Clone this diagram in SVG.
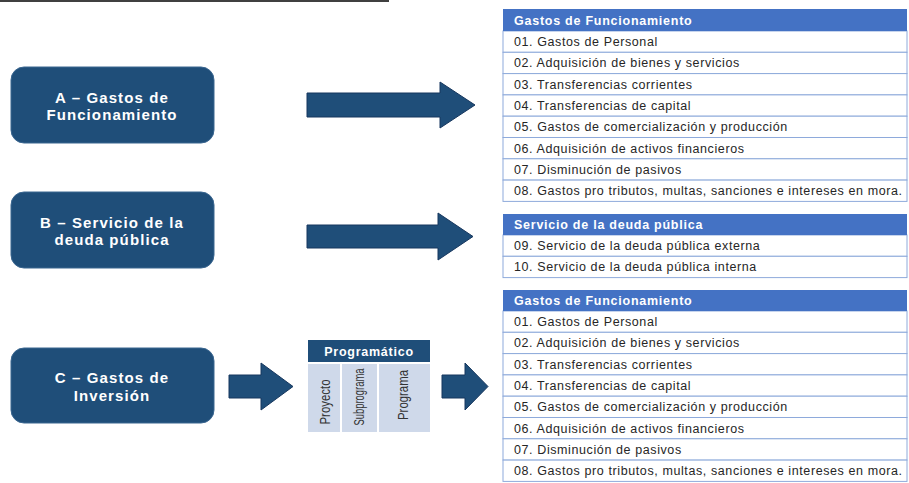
<svg xmlns="http://www.w3.org/2000/svg" width="909" height="483" viewBox="0 0 909 483">
<style>
.box{fill:#1f4e79;stroke:#3a6690;stroke-width:1}
.bt{font-family:"Liberation Sans",Arial,sans-serif;font-size:15px;font-weight:bold;fill:#fff;text-anchor:middle;letter-spacing:1.1px}
.arrow{fill:#1f4e79;stroke:#17375e;stroke-width:1}
.th{fill:#4472c4}
.tht{font-family:"Liberation Sans",Arial,sans-serif;font-size:12.5px;font-weight:bold;fill:#fff;letter-spacing:0.75px}
.row{fill:#fff;stroke:#8eaadb;stroke-width:1}
.rt{font-family:"Liberation Sans",Arial,sans-serif;font-size:12.5px;fill:#262626;letter-spacing:0.6px}
.pcol{fill:#cfd9ea}
.pt{font-family:"Liberation Sans",Arial,sans-serif;font-size:14px;fill:#333;text-anchor:middle}
</style>
<line x1="0" y1="1" x2="389" y2="1" stroke="#000" stroke-width="1.5"/>

<g id="nodeA">
<rect class="box" x="11" y="67" width="203" height="76" rx="13"/>
<text class="bt" x="112" y="103">A – Gastos de</text>
<text class="bt" x="112" y="120">Funcionamiento</text>
</g>
<g id="nodeB">
<rect class="box" x="11" y="192" width="203" height="76" rx="13"/>
<text class="bt" x="112" y="228">B – Servicio de la</text>
<text class="bt" x="112" y="245">deuda pública</text>
</g>
<g id="nodeC">
<rect class="box" x="11" y="348" width="203" height="75" rx="13"/>
<text class="bt" x="112" y="383">C – Gastos de</text>
<text class="bt" x="112" y="401">Inversión</text>
</g>

<g id="programatico">
<rect x="308" y="340" width="122" height="22" fill="#1f4e79"/>
<text class="tht" x="369" y="355.5" text-anchor="middle" font-size="13" letter-spacing="1">Programático</text>
<rect class="pcol" x="308" y="364" width="32" height="68"/>
<rect class="pcol" x="342" y="364" width="35" height="68"/>
<rect class="pcol" x="379" y="364" width="51" height="68"/>
<text class="pt" transform="translate(330,402) rotate(-90)" textLength="45" lengthAdjust="spacingAndGlyphs">Proyecto</text>
<text class="pt" transform="translate(364,397) rotate(-90)" textLength="57" lengthAdjust="spacingAndGlyphs">Subprograma</text>
<text class="pt" transform="translate(408,395) rotate(-90)" textLength="50" lengthAdjust="spacingAndGlyphs">Programa</text>
</g>

<g id="table1">
<rect class="row" x="503" y="31" width="404" height="21.3"/>
<rect class="row" x="503" y="52.3" width="404" height="21.3"/>
<rect class="row" x="503" y="73.6" width="404" height="21.3"/>
<rect class="row" x="503" y="94.9" width="404" height="21.3"/>
<rect class="row" x="503" y="116.2" width="404" height="21.3"/>
<rect class="row" x="503" y="137.5" width="404" height="21.3"/>
<rect class="row" x="503" y="158.8" width="404" height="21.3"/>
<rect class="row" x="503" y="180.1" width="404" height="21.3"/>
<rect class="th" x="503" y="9" width="404" height="22"/>
<text class="tht" x="514" y="24.5">Gastos de Funcionamiento</text>
<text class="rt" x="514" y="46">01. Gastos de Personal</text>
<text class="rt" x="514" y="67.3">02. Adquisición de bienes y servicios</text>
<text class="rt" x="514" y="88.6">03. Transferencias corrientes</text>
<text class="rt" x="514" y="109.9">04. Transferencias de capital</text>
<text class="rt" x="514" y="131.2">05. Gastos de comercialización y producción</text>
<text class="rt" x="514" y="152.5">06. Adquisición de activos financieros</text>
<text class="rt" x="514" y="173.8">07. Disminución de pasivos</text>
<text class="rt" x="514" y="195.1">08. Gastos pro tributos, multas, sanciones e intereses en mora.</text>
</g>

<g id="table2">
<rect class="row" x="503" y="235" width="404" height="21.3"/>
<rect class="row" x="503" y="256.3" width="404" height="21.3"/>
<rect class="th" x="503" y="214" width="404" height="21"/>
<text class="tht" x="514" y="229">Servicio de la deuda pública</text>
<text class="rt" x="514" y="250">09. Servicio de la deuda pública externa</text>
<text class="rt" x="514" y="271.3">10. Servicio de la deuda pública interna</text>
</g>

<g id="table3">
<rect class="row" x="503" y="311" width="404" height="21.3"/>
<rect class="row" x="503" y="332.3" width="404" height="21.3"/>
<rect class="row" x="503" y="353.6" width="404" height="21.3"/>
<rect class="row" x="503" y="374.9" width="404" height="21.3"/>
<rect class="row" x="503" y="396.2" width="404" height="21.3"/>
<rect class="row" x="503" y="417.5" width="404" height="21.3"/>
<rect class="row" x="503" y="438.8" width="404" height="21.3"/>
<rect class="row" x="503" y="460.1" width="404" height="21.3"/>
<rect class="th" x="503" y="290" width="404" height="21"/>
<text class="tht" x="514" y="305">Gastos de Funcionamiento</text>
<text class="rt" x="514" y="326">01. Gastos de Personal</text>
<text class="rt" x="514" y="347.3">02. Adquisición de bienes y servicios</text>
<text class="rt" x="514" y="368.6">03. Transferencias corrientes</text>
<text class="rt" x="514" y="389.9">04. Transferencias de capital</text>
<text class="rt" x="514" y="411.2">05. Gastos de comercialización y producción</text>
<text class="rt" x="514" y="432.5">06. Adquisición de activos financieros</text>
<text class="rt" x="514" y="453.8">07. Disminución de pasivos</text>
<text class="rt" x="514" y="475.1">08. Gastos pro tributos, multas, sanciones e intereses en mora.</text>
</g>

<g id="connectors">
<polygon class="arrow" points="307,93 440,93 440,82 475,105 440,128 440,117 307,117"/>
<polygon class="arrow" points="307,225 438,225 438,213 473,236.5 438,260 438,248 307,248"/>
<polygon class="arrow" points="229,375 261,375 261,363 293,386.5 261,410 261,398 229,398"/>
<polygon class="arrow" points="442,375 465,375 465,363 488,386.5 465,410 465,398 442,398"/>
</g>
</svg>
